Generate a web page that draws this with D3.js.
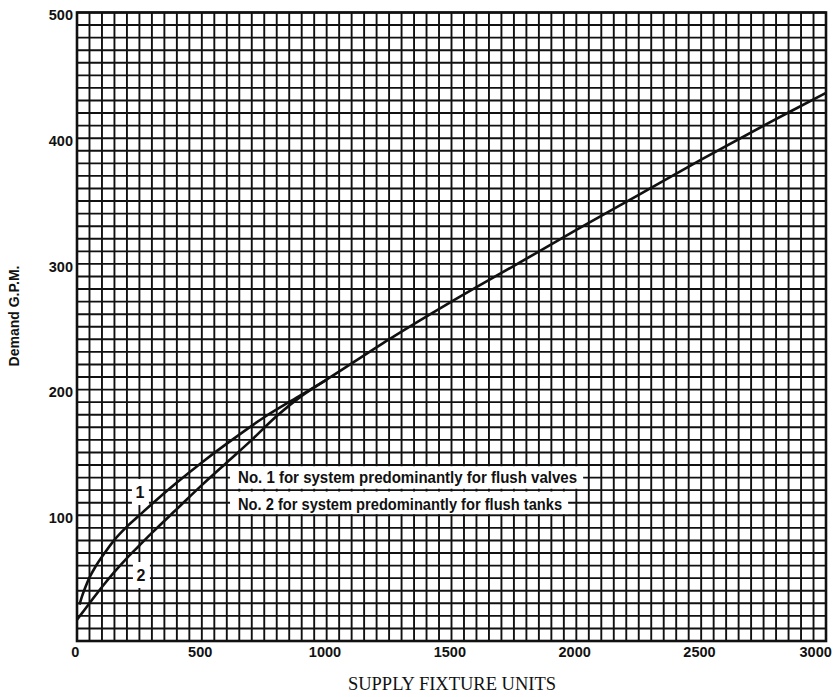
<!DOCTYPE html>
<html><head><meta charset="utf-8">
<script src="https://cdn.jsdelivr.net/npm/d3@7/dist/d3.min.js"></script>
<style>body{margin:0;background:#fff}</style>
</head><body><svg id="c" width="836" height="697"></svg>
<script>
// ---- data ----
const valvesFU  = [10, 20, 30, 40, 50, 75, 100, 150, 200, 250, 300, 400, 500, 600, 750, 900, 1000, 1250, 1500, 1750, 2000, 2250, 2500, 2750, 3000];
const valvesGPM = [29, 35.5, 41, 46, 50.5, 59.5, 67, 80.5, 91, 100, 109, 126, 142, 157, 178, 196, 208, 240, 270, 298.5, 327, 355, 383, 410, 436];
const tanksFU   = [0, 50, 100, 150, 200, 250, 300, 400, 500, 600, 700, 800, 900, 1000];
const tanksGPM  = [17, 30, 43, 55, 66, 76, 86, 105, 124, 142, 160, 179, 195, 208];
const xTicks = [0, 500, 1000, 1500, 2000, 2500, 3000];
const yTicks = [100, 200, 300, 400, 500];
const curveLabels = ["1", "2"];
const legendTexts = ["No. 1 for system predominantly for flush valves",
                     "No. 2 for system predominantly for flush tanks"];
const xTitle = "SUPPLY FIXTURE UNITS";
const yTitle = "Demand G.P.M.";

// ---- drawing ----
const svg = d3.select("#c");
const x = d3.scaleLinear().domain([0, 3000]).range([77, 826]);
const y = d3.scaleLinear().domain([0, 500]).range([641, 12.5]);
const ink = "#111";

const grid = svg.append("g");
grid.selectAll("line.v").data(d3.range(0, 3001, 50)).join("line")
  .attr("x1", d => x(d)).attr("x2", d => x(d))
  .attr("y1", y(0)).attr("y2", y(500))
  .attr("stroke", ink).attr("stroke-width", 1.9);
grid.selectAll("line.h").data(d3.range(0, 501, 10)).join("line")
  .attr("y1", d => y(d)).attr("y2", d => y(d))
  .attr("x1", x(0)).attr("x2", x(3000))
  .attr("stroke", ink).attr("stroke-width", 1.9);
svg.append("rect").attr("x", x(0)).attr("y", y(500))
  .attr("width", x(3000) - x(0)).attr("height", y(0) - y(500))
  .attr("fill", "none").attr("stroke", ink).attr("stroke-width", 2.6);

// legend texts with white backing
const legFont = "'Liberation Sans', Arial, sans-serif";
const legLen = [339, 324];
const legY = [130, 108.5];
legendTexts.forEach((t, i) => {
  const g = svg.append("g");
  const bg = g.append("rect").attr("fill", "#fff");
  const tx = g.append("text").text(t)
    .attr("x", x(645)).attr("y", y(legY[i]))
    .attr("dominant-baseline", "central")
    .attr("font-family", legFont).attr("font-weight", "bold")
    .attr("font-size", 16)
    .attr("textLength", legLen[i]).attr("lengthAdjust", "spacingAndGlyphs")
    .attr("fill", ink);
  const b = tx.node().getBBox();
  const top = i === 0 ? y(140) + 1.2 : y(120) + 1.4;
  const bot = i === 0 ? y(120) - 1.4 : y(100) - 1.2;
  bg.attr("x", b.x - 8).attr("width", b.width + 14)
    .attr("y", top).attr("height", bot - top);
});

// curve number labels
const labPos = [[252, 118.5], [256, 52.5]];
curveLabels.forEach((t, i) => {
  const g = svg.append("g");
  g.append("rect").attr("fill", "#fff")
    .attr("x", x(labPos[i][0]) - 8).attr("y", y(labPos[i][1]) - 13)
    .attr("width", 17).attr("height", 26);
  g.append("text").text(t)
    .attr("x", x(labPos[i][0])).attr("y", y(labPos[i][1]))
    .attr("text-anchor", "middle").attr("dominant-baseline", "central")
    .attr("font-family", legFont).attr("font-weight", "bold")
    .attr("font-size", 16).attr("fill", ink);
});

// curves
const line = d3.line().x(d => x(d[0])).y(d => y(d[1])).curve(d3.curveCatmullRom.alpha(0.5));
svg.append("path").datum(valvesFU.map((v, i) => [v, valvesGPM[i]]))
  .attr("d", line).attr("fill", "none").attr("stroke", ink).attr("stroke-width", 2.6);
svg.append("path").datum(tanksFU.map((v, i) => [v, tanksGPM[i]]))
  .attr("d", line).attr("fill", "none").attr("stroke", ink).attr("stroke-width", 2.6);

// axes
const tickFont = "'Liberation Sans', Arial, sans-serif";
const ax = svg.append("g").attr("transform", `translate(0,${y(0)})`)
  .call(d3.axisBottom(x).tickValues(xTicks).tickSize(0).tickPadding(6).tickFormat(d3.format("d")));
ax.select(".domain").remove();
ax.selectAll("text").attr("font-family", tickFont).attr("font-weight", "bold")
  .attr("font-size", 14.5).attr("fill", ink)
  .attr("dx", d => d === 3000 ? "-0.75em" : "-0.15em");
const ay = svg.append("g").attr("transform", `translate(${x(0)},0)`)
  .call(d3.axisLeft(y).tickValues(yTicks).tickSize(0).tickPadding(4).tickFormat(d3.format("d")));
ay.select(".domain").remove();
ay.selectAll("text").attr("font-family", tickFont).attr("font-weight", "bold")
  .attr("font-size", 14.5).attr("fill", ink).attr("dy", "0.5em");

// titles
svg.append("text").text(xTitle)
  .attr("x", 452).attr("y", 690).attr("text-anchor", "middle")
  .attr("font-family", "'Liberation Serif', 'Times New Roman', serif")
  .attr("font-size", 18.5).attr("fill", ink);
svg.append("text").text(yTitle)
  .attr("transform", "translate(19,316) rotate(-90)")
  .attr("text-anchor", "middle")
  .attr("font-family", tickFont).attr("font-weight", "bold")
  .attr("font-size", 14).attr("fill", ink);
</script></body></html>
